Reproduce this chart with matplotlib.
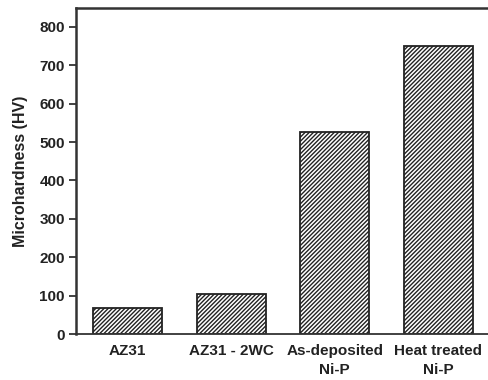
import matplotlib
matplotlib.use("Agg")
import matplotlib.pyplot as plt

categories = ["AZ31", "AZ31 - 2WC", "As-deposited\nNi-P", "Heat treated\nNi-P"]
values = [68, 104, 526, 751]
yticks = [0, 100, 200, 300, 400, 500, 600, 700, 800]

plt.rcParams['font.family'] = ['Liberation Sans', 'DejaVu Sans']
plt.rcParams['hatch.linewidth'] = 1.0
plt.rcParams['hatch.color'] = '#222222'

fig = plt.figure(figsize=(4.88, 3.80), dpi=100)
ax = fig.add_axes([76/488, 46/380, (490-76)/488, (334-8)/380])

x = range(len(categories))
ax.bar(x, values, width=0.665, color='white', edgecolor='#222222',
       hatch='////////', linewidth=1.3, zorder=2)

ax.set_xlim(-0.5, 3.5)
ax.set_ylim(0, 849)
ax.set_yticks(yticks)
ax.set_xticks(list(x))
ax.set_xticklabels(categories, fontsize=11, fontweight='bold', linespacing=1.45,
                   color='#222222')
ax.tick_params(axis='x', length=0, pad=7)
ax.tick_params(axis='y', direction='out', length=5, width=1.3, labelsize=11,
               pad=3, labelcolor='#222222', color='#333333')
for lab in ax.get_yticklabels():
    lab.set_fontweight('bold')
ax.set_ylabel("Microhardness (HV)", fontsize=11.5, fontweight='bold', labelpad=8,
              color='#222222')

for s in ['left', 'top', 'right']:
    ax.spines[s].set_linewidth(1.8)
    ax.spines[s].set_color('#333333')
ax.spines['bottom'].set_linewidth(1.3)
ax.spines['bottom'].set_color('#333333')

fig.savefig("out.png", dpi=100)
